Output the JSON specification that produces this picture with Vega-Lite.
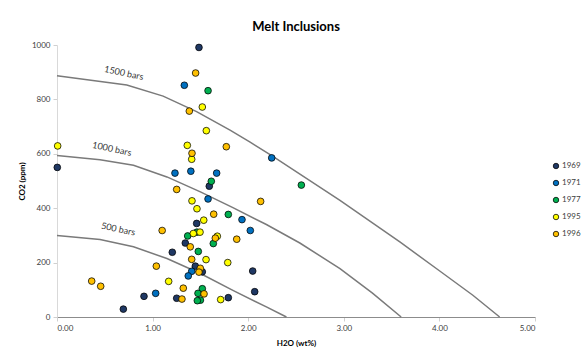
{
  "$schema": "https://vega.github.io/schema/vega-lite/v6.json",
  "width": 478,
  "height": 272,
  "autosize": {"type": "none"},
  "padding": {"left": 57, "top": 45, "right": 46, "bottom": 37},
  "background": "white",
  "title": {"text": "Melt Inclusions", "font": "Lato", "fontSize": 13, "fontWeight": "bold", "color": "#000000", "anchor": "middle", "offset": 7},
  "config": {"view": {"stroke": null}, "font": "Lato"},
  "datasets": {
    "isobars": [
      {"isobar": "1500", "h2o": 0, "co2": 887},
      {"isobar": "1500", "h2o": 0.73, "co2": 853},
      {"isobar": "1500", "h2o": 1.11, "co2": 812},
      {"isobar": "1500", "h2o": 1.46, "co2": 755},
      {"isobar": "1500", "h2o": 1.81, "co2": 687},
      {"isobar": "1500", "h2o": 2.02, "co2": 643},
      {"isobar": "1500", "h2o": 2.25, "co2": 592},
      {"isobar": "1500", "h2o": 2.96, "co2": 429},
      {"isobar": "1500", "h2o": 3.59, "co2": 275},
      {"isobar": "1500", "h2o": 4.0, "co2": 170},
      {"isobar": "1500", "h2o": 4.35, "co2": 80},
      {"isobar": "1500", "h2o": 4.63, "co2": 0},
      {"isobar": "1000", "h2o": 0, "co2": 594},
      {"isobar": "1000", "h2o": 0.45, "co2": 578},
      {"isobar": "1000", "h2o": 0.8, "co2": 558},
      {"isobar": "1000", "h2o": 1.15, "co2": 515},
      {"isobar": "1000", "h2o": 1.5, "co2": 460},
      {"isobar": "1000", "h2o": 1.84, "co2": 402},
      {"isobar": "1000", "h2o": 2.19, "co2": 340},
      {"isobar": "1000", "h2o": 2.54, "co2": 272},
      {"isobar": "1000", "h2o": 2.96, "co2": 178},
      {"isobar": "1000", "h2o": 3.3, "co2": 88},
      {"isobar": "1000", "h2o": 3.6, "co2": 0},
      {"isobar": "500", "h2o": 0, "co2": 300},
      {"isobar": "500", "h2o": 0.45, "co2": 285},
      {"isobar": "500", "h2o": 0.8, "co2": 258},
      {"isobar": "500", "h2o": 1.15, "co2": 215},
      {"isobar": "500", "h2o": 1.5, "co2": 160},
      {"isobar": "500", "h2o": 1.84, "co2": 98},
      {"isobar": "500", "h2o": 2.19, "co2": 37},
      {"isobar": "500", "h2o": 2.4, "co2": 0}
    ],
    "labels": [
      {"label": "1500 bars", "h2o": 0.7, "co2": 897},
      {"label": "1000 bars", "h2o": 0.575, "co2": 618},
      {"label": "500 bars", "h2o": 0.64, "co2": 323}
    ],
    "points": [
      {"year": "1969", "h2o": 1.485, "co2": 991},
      {"year": "1969", "h2o": 0.003, "co2": 550},
      {"year": "1969", "h2o": 1.593, "co2": 481},
      {"year": "1969", "h2o": 1.461, "co2": 344},
      {"year": "1969", "h2o": 1.342, "co2": 272},
      {"year": "1969", "h2o": 1.206, "co2": 238},
      {"year": "1969", "h2o": 1.447, "co2": 187},
      {"year": "1969", "h2o": 1.52, "co2": 166},
      {"year": "1969", "h2o": 0.91, "co2": 76},
      {"year": "1969", "h2o": 1.252, "co2": 69},
      {"year": "1969", "h2o": 1.792, "co2": 71},
      {"year": "1969", "h2o": 2.047, "co2": 169},
      {"year": "1969", "h2o": 2.068, "co2": 93},
      {"year": "1969", "h2o": 0.694, "co2": 29},
      {"year": "1971", "h2o": 1.332, "co2": 852},
      {"year": "1971", "h2o": 1.234, "co2": 529},
      {"year": "1971", "h2o": 1.4, "co2": 536},
      {"year": "1971", "h2o": 1.67, "co2": 529},
      {"year": "1971", "h2o": 1.58, "co2": 434},
      {"year": "1971", "h2o": 1.935, "co2": 358},
      {"year": "1971", "h2o": 1.409, "co2": 168},
      {"year": "1971", "h2o": 1.373, "co2": 151},
      {"year": "1971", "h2o": 1.032, "co2": 87},
      {"year": "1971", "h2o": 2.246, "co2": 585},
      {"year": "1971", "h2o": 2.022, "co2": 318},
      {"year": "1977", "h2o": 1.58, "co2": 832},
      {"year": "1977", "h2o": 1.614, "co2": 499},
      {"year": "1977", "h2o": 1.792, "co2": 377},
      {"year": "1977", "h2o": 1.464, "co2": 312},
      {"year": "1977", "h2o": 1.367, "co2": 298},
      {"year": "1977", "h2o": 1.635, "co2": 270},
      {"year": "1977", "h2o": 1.478, "co2": 241},
      {"year": "1977", "h2o": 1.52, "co2": 104},
      {"year": "1977", "h2o": 1.475, "co2": 87},
      {"year": "1977", "h2o": 1.5, "co2": 62},
      {"year": "1977", "h2o": 1.468, "co2": 60},
      {"year": "1977", "h2o": 2.556, "co2": 485},
      {"year": "1995", "h2o": 0.007, "co2": 629},
      {"year": "1995", "h2o": 1.52, "co2": 772},
      {"year": "1995", "h2o": 1.562, "co2": 685},
      {"year": "1995", "h2o": 1.363, "co2": 631},
      {"year": "1995", "h2o": 1.409, "co2": 580},
      {"year": "1995", "h2o": 1.412, "co2": 427},
      {"year": "1995", "h2o": 1.464, "co2": 398},
      {"year": "1995", "h2o": 1.535, "co2": 356},
      {"year": "1995", "h2o": 1.426, "co2": 307},
      {"year": "1995", "h2o": 1.496, "co2": 312},
      {"year": "1995", "h2o": 1.677, "co2": 297},
      {"year": "1995", "h2o": 1.559, "co2": 211},
      {"year": "1995", "h2o": 1.786, "co2": 200},
      {"year": "1995", "h2o": 1.168, "co2": 131},
      {"year": "1995", "h2o": 1.712, "co2": 64},
      {"year": "1996", "h2o": 1.45, "co2": 897},
      {"year": "1996", "h2o": 1.384, "co2": 757},
      {"year": "1996", "h2o": 1.771, "co2": 626},
      {"year": "1996", "h2o": 1.412, "co2": 602},
      {"year": "1996", "h2o": 1.252, "co2": 469},
      {"year": "1996", "h2o": 1.639, "co2": 378},
      {"year": "1996", "h2o": 1.1, "co2": 318},
      {"year": "1996", "h2o": 1.656, "co2": 290},
      {"year": "1996", "h2o": 1.88, "co2": 286},
      {"year": "1996", "h2o": 1.394, "co2": 258},
      {"year": "1996", "h2o": 1.409, "co2": 212},
      {"year": "1996", "h2o": 1.039, "co2": 187},
      {"year": "1996", "h2o": 1.499, "co2": 179},
      {"year": "1996", "h2o": 1.485, "co2": 165},
      {"year": "1996", "h2o": 1.321, "co2": 106},
      {"year": "1996", "h2o": 1.538, "co2": 85},
      {"year": "1996", "h2o": 1.307, "co2": 66},
      {"year": "1996", "h2o": 0.363, "co2": 132},
      {"year": "1996", "h2o": 0.457, "co2": 113},
      {"year": "1996", "h2o": 2.13, "co2": 425}
    ]
  },
  "encoding": {
    "x": {
      "field": "h2o", "type": "quantitative",
      "scale": {"domain": [0, 5], "nice": false, "zero": false},
      "axis": {
        "title": "H2O (wt%)", "values": [0, 1, 2, 3, 4, 5], "format": ".2f",
        "grid": false, "domainColor": "#8c8c8c", "domainWidth": 1,
        "tickColor": "#d0d0d0", "tickSize": 4, "labelPadding": 3,
        "labelFont": "Lato", "labelFontSize": 8, "labelColor": "#404040",
        "titleFont": "Lato", "titleFontSize": 8, "titleFontWeight": "bold", "titleColor": "#000000", "titlePadding": 7
      }
    },
    "y": {
      "field": "co2", "type": "quantitative",
      "scale": {"domain": [0, 1000], "nice": false},
      "axis": {
        "title": "CO2 (ppm)", "values": [0, 200, 400, 600, 800, 1000], "format": "d",
        "grid": false, "domainColor": "#d9d9d9", "domainWidth": 1,
        "tickColor": "#d0d0d0", "tickSize": 4, "labelPadding": 3,
        "labelFont": "Lato", "labelFontSize": 8, "labelColor": "#404040",
        "titleFont": "Lato", "titleFontSize": 8, "titleFontWeight": "bold", "titleColor": "#000000", "titlePadding": 5
      }
    }
  },
  "layer": [
    {
      "data": {"name": "isobars"},
      "mark": {"type": "line", "color": "#7a7a7a", "strokeWidth": 1.5},
      "encoding": {"detail": {"field": "isobar", "type": "nominal"}}
    },
    {
      "data": {"name": "labels"},
      "mark": {"type": "text", "font": "Lato", "fontSize": 9, "color": "#333333", "angle": 12, "align": "center", "baseline": "middle"},
      "encoding": {"text": {"field": "label", "type": "nominal"}}
    },
    {
      "data": {"name": "points"},
      "mark": {"type": "point", "shape": "circle", "filled": true, "stroke": "#000000", "strokeWidth": 0.75, "size": 45, "opacity": 1},
      "encoding": {
        "color": {
          "field": "year", "type": "nominal",
          "scale": {"domain": ["1969", "1971", "1977", "1995", "1996"], "range": ["#1f3864", "#0070c0", "#00b050", "#ffff00", "#ffc000"]},
          "legend": {
            "orient": "none", "legendX": 495, "legendY": 117, "title": null, "padding": 0,
            "symbolType": "circle", "symbolSize": 30, "symbolStrokeColor": "#000000", "symbolStrokeWidth": 0.75,
            "labelFont": "Lato", "labelFontSize": 8, "labelColor": "#404040", "labelOffset": 2, "rowPadding": 7
          }
        }
      }
    }
  ]
}
